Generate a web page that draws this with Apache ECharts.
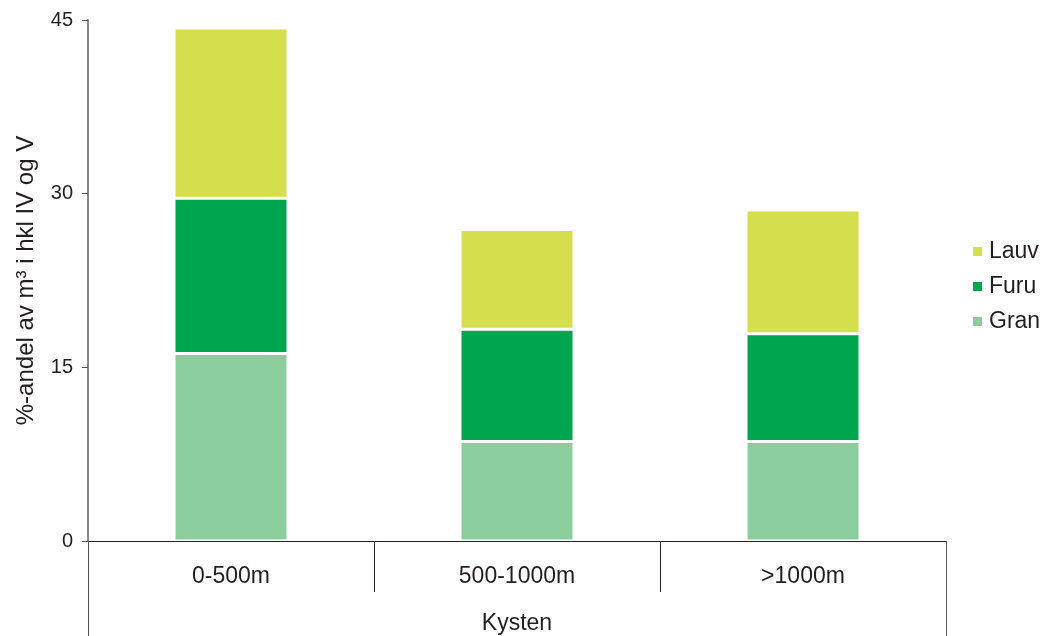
<!DOCTYPE html>
<html>
<head>
<meta charset="utf-8">
<script src="https://cdn.jsdelivr.net/npm/echarts@6/dist/echarts.min.js"></script>
<style>
  html, body { margin: 0; padding: 0; background: #fff; }
  #chart { width: 1044px; height: 636px; }
</style>
</head>
<body>
<div id="chart"></div>
<script>
// Share of volume (%) in age classes IV and V along the coast, by altitude band
const categories = ['0-500m', '500-1000m', '>1000m'];
const groupLabel = ['Kysten'];
const gran = [16.2, 8.6, 8.6];
const furu = [13.4, 9.7, 9.3];
const lauv = [14.7, 8.6, 10.7];
const yTicks = { min: 0, max: 45, interval: 15 };

const colors = { Lauv: '#d5df4d', Furu: '#00a54f', Gran: '#8ccd9d' };
const font = 'Liberation Sans, Arial, Helvetica, sans-serif';

const chart = echarts.init(document.getElementById('chart'), null, { renderer: 'canvas' });

function barSeries(name, values) {
  return {
    name: name,
    type: 'bar',
    stack: 'total',
    xAxisIndex: 0,
    barWidth: 114,
    data: values,
    itemStyle: { color: colors[name], borderColor: '#ffffff', borderWidth: 1.5 },
    emphasis: { disabled: true }
  };
}

chart.setOption({
  animation: false,
  backgroundColor: '#ffffff',
  grid: { left: 88, right: 98, top: 20, bottom: 95, containLabel: false, outerBoundsMode: 'none' },
  legend: {
    orient: 'vertical',
    left: 966,
    top: 235,
    data: ['Lauv', 'Furu', 'Gran'],
    icon: 'rect',
    itemWidth: 11,
    itemHeight: 11,
    itemGap: 12,
    textStyle: { fontFamily: font, fontSize: 23, color: '#231f20', padding: [0, 0, 0, 1] }
  },
  xAxis: [
    {
      type: 'category',
      data: categories,
      position: 'bottom',
      boundaryGap: true,
      axisLine: { show: true, onZero: false, lineStyle: { color: '#231f20', width: 1 } },
      axisTick: { show: true, alignWithLabel: false, length: 51, lineStyle: { color: '#231f20', width: 1 } },
      axisLabel: { margin: 24, fontFamily: font, fontSize: 23, color: '#231f20' }
    },
    {
      type: 'category',
      data: groupLabel,
      position: 'bottom',
      boundaryGap: true,
      axisLine: { show: false, onZero: false },
      axisTick: { show: true, alignWithLabel: false, length: 95, lineStyle: { color: '#555555', width: 1 } },
      axisLabel: { margin: 71, fontFamily: font, fontSize: 23, color: '#231f20' }
    }
  ],
  yAxis: {
    type: 'value',
    min: yTicks.min,
    max: yTicks.max,
    interval: yTicks.interval,
    name: '%-andel av m³ i hkl IV og V',
    nameLocation: 'middle',
    nameGap: 50,
    nameTextStyle: { fontFamily: font, fontSize: 24, color: '#231f20' },
    axisLine: { show: true, lineStyle: { color: '#8a8a8a', width: 2 } },
    axisTick: { show: true, length: 6, lineStyle: { color: '#555555', width: 1 } },
    axisLabel: { margin: 15, fontFamily: font, fontSize: 20, color: '#231f20' },
    splitLine: { show: false }
  },
  series: [
    barSeries('Gran', gran),
    barSeries('Furu', furu),
    barSeries('Lauv', lauv)
  ]
});
</script>
</body>
</html>
